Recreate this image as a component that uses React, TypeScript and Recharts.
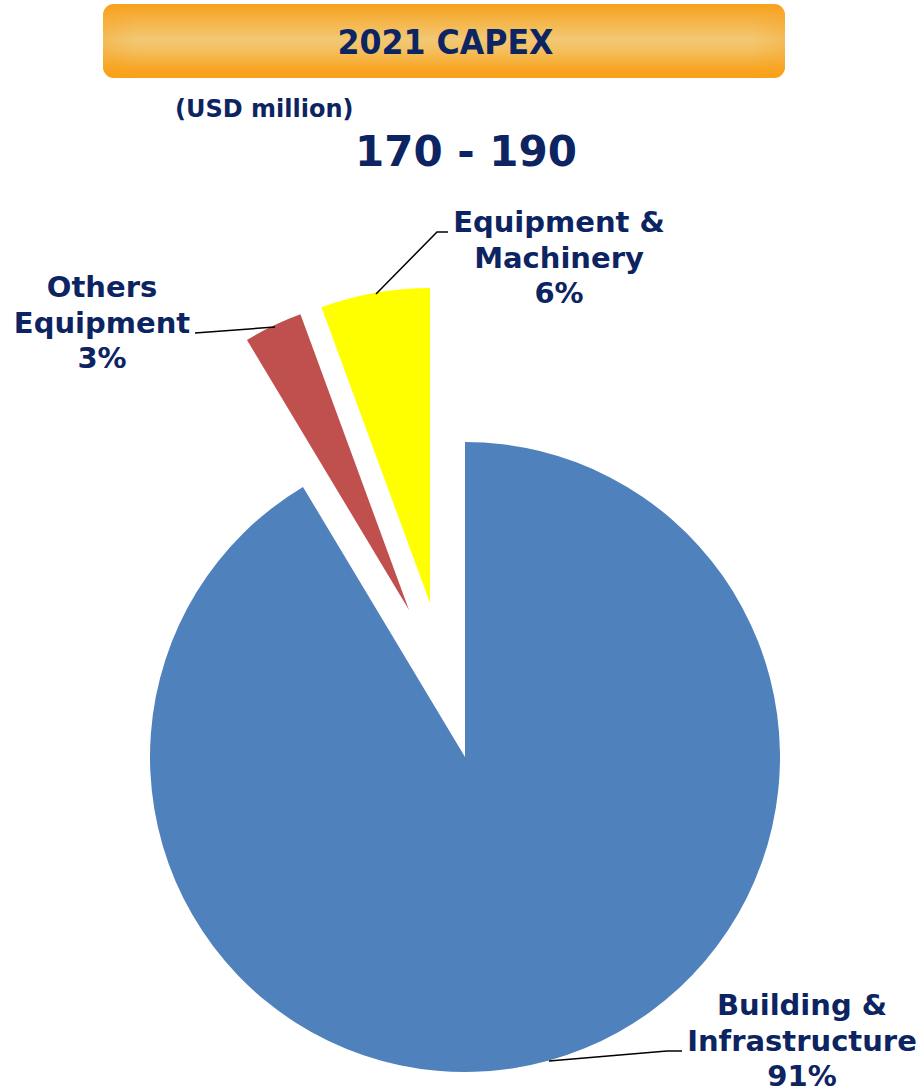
import React from 'react';
import { PieChart, Pie, Cell } from 'recharts';

// ---- data ----
const categories = ['Building & Infrastructure', 'Others Equipment', 'Equipment & Machinery'];
const categoryLines = [['Building &', 'Infrastructure'], ['Others', 'Equipment'], ['Equipment &', 'Machinery']];
const shares = [91.4, 3.0, 5.6];
const sliceColors = ['#4F81BD', '#C0504D', '#FFFF00'];
const title = '2021 CAPEX';
const unitLabel = '(USD million)';
const rangeLabel = '170 - 190';

const data = categories.map((name, i) => ({ name, value: shares[i] }));

const W = 922;
const H = 1088;
const R = 315;
const NAVY = '#0C2461';
const FONT = '"DejaVu Sans", Verdana, sans-serif';

// slice centres (blue not exploded, red/yellow pulled out)
const centers = [
  { cx: 465, cy: 757 },
  { cx: 409, cy: 610 },
  { cx: 430, cy: 603 },
];

// label placements
const labelPos = [
  { x: 802, y: 1015 },
  { x: 102, y: 297 },
  { x: 559, y: 232 },
];
const leaders = [
  '549,1061 667,1051 682,1051',
  '275,327 195,333',
  '376,294 437,232 448,232',
];

export default function App() {
  return (
    <div style={{ position: 'absolute', left: 0, top: 0, width: W, height: H, background: '#fff' }}>
      <PieChart width={W} height={H} margin={{ top: 0, right: 0, bottom: 0, left: 0 }}>
        {centers.map((c, k) => (
          <Pie
            key={k}
            data={data}
            dataKey="value"
            nameKey="name"
            cx={c.cx}
            cy={c.cy}
            innerRadius={0}
            outerRadius={R}
            startAngle={90}
            endAngle={-270}
            paddingAngle={0}
            stroke="none"
            isAnimationActive={false}
            label={false}
            labelLine={false}
          >
            {data.map((d, i) => (
              <Cell key={i} fill={i === k ? sliceColors[i] : 'transparent'} stroke="none" />
            ))}
          </Pie>
        ))}
      </PieChart>
      <svg
        width={W}
        height={H}
        style={{ position: 'absolute', left: 0, top: 0, pointerEvents: 'none' }}
      >
        <defs>
          <linearGradient id="tbg" x1="0" y1="0" x2="0" y2="1">
            <stop offset="0%" stopColor="#F8A01A" />
            <stop offset="15%" stopColor="#F6AE3A" />
            <stop offset="48%" stopColor="#F2C874" />
            <stop offset="62%" stopColor="#F3C060" />
            <stop offset="88%" stopColor="#F8A523" />
            <stop offset="100%" stopColor="#F9A01A" />
          </linearGradient>
          <linearGradient id="tbh" x1="0" y1="0" x2="1" y2="0">
            <stop offset="0%" stopColor="#F8A01A" stopOpacity={0.3} />
            <stop offset="5%" stopColor="#F8A01A" stopOpacity={0} />
            <stop offset="95%" stopColor="#F8A01A" stopOpacity={0} />
            <stop offset="100%" stopColor="#F8A01A" stopOpacity={0.3} />
          </linearGradient>
        </defs>
        <rect x={103} y={4} width={682} height={74} rx={11} ry={11} fill="url(#tbg)" />
        <rect x={103} y={4} width={682} height={74} rx={11} ry={11} fill="url(#tbh)" />
        <text
          x={445.5}
          y={54}
          textAnchor="middle"
          fontFamily={'"DejaVu Sans Condensed", "DejaVu Sans", sans-serif'}
          fontWeight="bold"
          fontSize={33}
          fill={NAVY}
          textLength={216}
          lengthAdjust="spacingAndGlyphs"
        >
          {title}
        </text>
        <text x={175} y={117} fontFamily={FONT} fontWeight="bold" fontSize={24} fill={NAVY}>
          {unitLabel}
        </text>
        <text x={466} y={166} textAnchor="middle" fontFamily={FONT} fontWeight="bold" fontSize={42} fill={NAVY}>
          {rangeLabel}
        </text>
        {leaders.map((p, i) => (
          <polyline key={i} points={p} fill="none" stroke="#000" strokeWidth={1.5} />
        ))}
        {data.map((d, i) => {
          const lines = [...categoryLines[i], `${Math.round(d.value)}%`];
          return (
            <text
              key={i}
              textAnchor="middle"
              fontFamily={FONT}
              fontWeight="bold"
              fontSize={29}
              fill={NAVY}
            >
              {lines.map((ln, j) => (
                <tspan key={j} x={labelPos[i].x} y={labelPos[i].y + j * 35.5}>
                  {ln}
                </tspan>
              ))}
            </text>
          );
        })}
      </svg>
    </div>
  );
}
